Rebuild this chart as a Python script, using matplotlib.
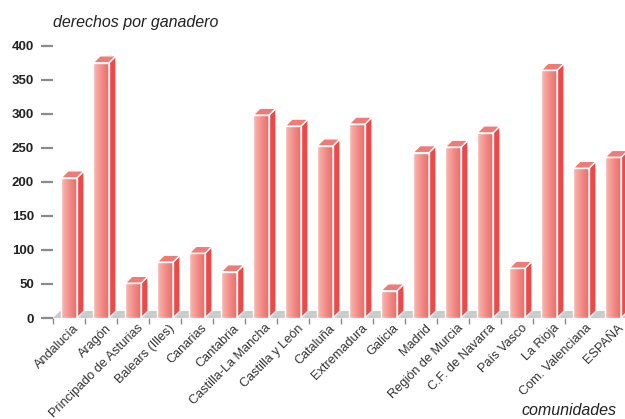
import numpy as np
import matplotlib
matplotlib.use("Agg")
import matplotlib.pyplot as plt
from matplotlib.patches import Polygon
from matplotlib.colors import LinearSegmentedColormap
import matplotlib.transforms as mtransforms

categories = ["Andalucía", "Aragón", "Principado de Asturias", "Balears (Illes)", "Canarias",
              "Cantabria", "Castilla-La Mancha", "Castilla y León", "Cataluña", "Extremadura",
              "Galicia", "Madrid", "Región de Murcia", "C.F. de Navarra", "País Vasco",
              "La Rioja", "Com. Valenciana", "ESPAÑA"]
values = [206, 375, 51, 82, 95, 68, 298, 282, 253, 285, 40, 243, 251, 272, 73, 364, 220, 236]
yticks = [0, 50, 100, 150, 200, 250, 300, 350, 400]

plt.rcParams['font.family'] = ['Liberation Sans', 'DejaVu Sans']

fig = plt.figure(figsize=(6.25, 4.19), dpi=100)
ax = fig.add_axes([53/625, 1-318/419, 576/625, (318-39)/419])
ax.set_xlim(-0.5, 17.5)
ax.set_ylim(0, 410)

dx = 0.22
dy = 10.3
hw = 0.25

# floor
floor = Polygon([(-0.5, 0), (17.5, 0), (17.5 + dx, dy), (-0.5 + dx, dy)],
                closed=True, facecolor="#CBCBCB", edgecolor="none", zorder=1)
ax.add_patch(floor)

cmap = LinearSegmentedColormap.from_list("front", ["#F9BDB5", "#F3908A", "#EE6A66"])
grad = np.linspace(0, 1, 64).reshape(1, -1)

for i, v in enumerate(values):
    x0, x1 = i - hw, i + hw
    ax.imshow(grad, cmap=cmap, extent=(x0, x1, 0, v), aspect='auto',
              interpolation='bilinear', zorder=3)
    ax.add_patch(Polygon([(x0, 0), (x1, 0), (x1, v), (x0, v)], closed=True,
                         facecolor='none', edgecolor='white', lw=1.0, zorder=4))
    side = Polygon([(x1, 0), (x1 + dx, dy), (x1 + dx, v + dy), (x1, v)], closed=True,
                   facecolor="#EE4848", edgecolor='white', lw=1.0, zorder=3)
    ax.add_patch(side)
    top = Polygon([(x0, v), (x1, v), (x1 + dx, v + dy), (x0 + dx, v + dy)], closed=True,
                  facecolor="#F07A76", edgecolor='white', lw=1.0, zorder=3)
    ax.add_patch(top)

ax.set_xlim(-0.5, 17.5)
ax.set_ylim(0, 410)

for s in ax.spines.values():
    s.set_visible(False)

ax.set_yticks(yticks)
ax.set_yticklabels([str(t) for t in yticks], fontweight='bold', fontsize=9.5, color='#222222')
ax.tick_params(axis='y', length=8.6, width=1.6, color='#8a8a8a', pad=5)

ax.set_xticks(np.arange(len(categories)))
ax.set_xticklabels(categories, rotation=45, ha='right', va='top', rotation_mode='anchor',
                   fontsize=9.2, color='#333333')
ax.tick_params(axis='x', which='major', length=0, pad=3)
ax.set_xticks(np.arange(len(categories) - 1) - 0.5, minor=True)
ax.tick_params(axis='x', which='minor', length=4, width=1.0, color='#8a8a8a', pad=2)

offset = mtransforms.ScaledTranslation(4/100, 0, fig.dpi_scale_trans)
for lab in ax.get_xticklabels():
    lab.set_transform(lab.get_transform() + offset)

fig.text(53/625, 1-27/419, "derechos por ganadero", fontsize=11.5, style='italic',
         color='#222222', va='baseline', ha='left')
fig.text(616/625, 1-415/419, "comunidades", fontsize=11.5, style='italic',
         color='#222222', va='baseline', ha='right')

fig.savefig("out.png", dpi=100)
